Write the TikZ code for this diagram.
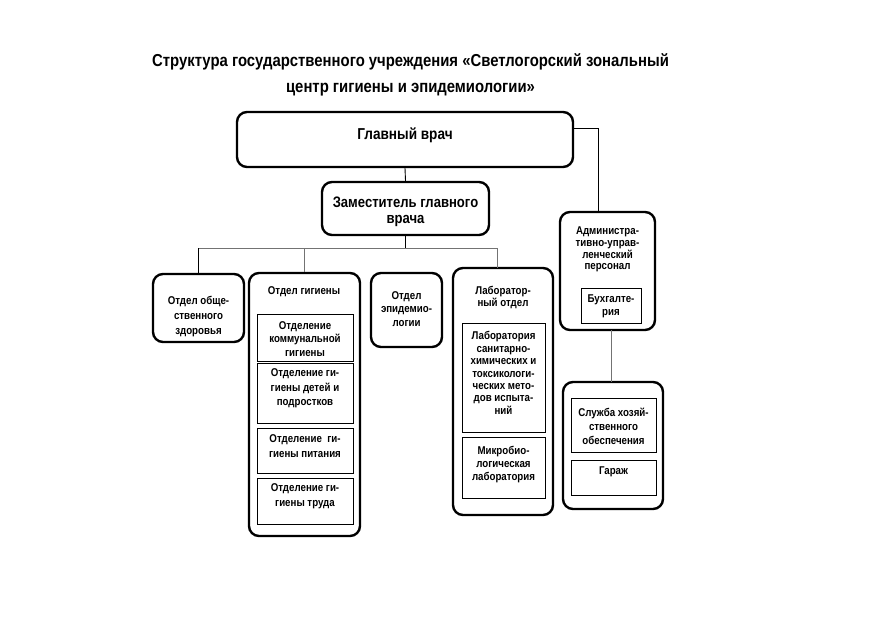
\documentclass[tikz,border=0pt]{standalone}
\usepackage{fontspec}
\setmainfont[FakeStretch=0.86]{Liberation Sans}
\begin{document}
\begin{tikzpicture}[x=1pt,y=-1pt,
  obox/.style={draw, line width=2.4pt, rounded corners=10pt, inner sep=0pt},
  ibox/.style={draw, line width=0.8pt, inner sep=0pt},
  txt/.style={align=center, font=\bfseries\fontsize{11}{13}\selectfont, inner sep=0pt},
  conn/.style={line width=0.9pt},
  gconn/.style={line width=0.9pt, draw=black!55}]
\useasboundingbox (0,0) rectangle (882,620);
% title
\node[align=center, font=\bfseries\fontsize{17.3}{26}\selectfont, inner sep=0pt] (title) at (410.5,75)
  {Структура государственного учреждения «Светлогорский зональный\\центр гигиены и эпидемиологии»};
% outer boxes
\node[obox, minimum width=336pt, minimum height=55pt] (gv) at (405,139.5) {};
\node[obox, minimum width=167pt, minimum height=53pt] (zam) at (405.5,208.5) {};
\node[obox, minimum width=91pt, minimum height=68pt] (obsh) at (198.5,308) {};
\node[obox, minimum width=111pt, minimum height=263pt] (gig) at (304.5,404.5) {};
\node[obox, minimum width=71pt, minimum height=74pt] (epid) at (406.5,310) {};
\node[obox, minimum width=100pt, minimum height=247pt] (lab) at (503,391.5) {};
\node[obox, minimum width=95pt, minimum height=118pt] (adm) at (607.5,271) {};
\node[obox, minimum width=100pt, minimum height=127pt] (serv) at (613,445.5) {};
% inner boxes
\node[ibox, minimum width=96pt, minimum height=47pt] (g1) at (305,337.5) {};
\node[ibox, minimum width=96pt, minimum height=60pt] (g2) at (305,393) {};
\node[ibox, minimum width=96pt, minimum height=45pt] (g3) at (305,450.5) {};
\node[ibox, minimum width=96pt, minimum height=46pt] (g4) at (305,501) {};
\node[ibox, minimum width=83pt, minimum height=109pt] (l1) at (503.5,377.5) {};
\node[ibox, minimum width=83pt, minimum height=61pt] (l2) at (503.5,467.5) {};
\node[ibox, minimum width=60pt, minimum height=35pt] (buh) at (611,305.5) {};
\node[ibox, minimum width=85pt, minimum height=54pt] (s1) at (613.5,425) {};
\node[ibox, minimum width=85pt, minimum height=35pt] (s2) at (613.5,477.5) {};
% texts
\node[txt, font=\bfseries\fontsize{15.8}{16}\selectfont] (tgv) at (405,135) {Главный врач};
\node[txt, font=\bfseries\fontsize{15.2}{16}\selectfont] (tzam) at (405.5,212) {Заместитель главного\\врача};
\node[txt, font=\bfseries\fontsize{11.3}{15}\selectfont] (tobsh) at (198.5,316.5) {Отдел обще-\\ственного\\здоровья};
\node[txt, font=\bfseries\fontsize{11.3}{13}\selectfont] (tgig) at (304,292) {Отдел гигиены};
\node[txt, font=\bfseries\fontsize{11.3}{13.5}\selectfont] (tg1) at (305,339) {Отделение\\коммунальной\\гигиены};
\node[txt, font=\bfseries\fontsize{11.3}{14.5}\selectfont] (tg2) at (305,388.5) {Отделение ги-\\гиены детей и\\подростков};
\node[txt, font=\bfseries\fontsize{11.3}{15}\selectfont] (tg3) at (305,446) {Отделение\ \ ги-\\гиены питания};
\node[txt, font=\bfseries\fontsize{11.3}{15}\selectfont] (tg4) at (305,496.5) {Отделение ги-\\гиены труда};
\node[txt, font=\bfseries\fontsize{11.3}{13.5}\selectfont] (tepid) at (406.5,309) {Отдел\\эпидемио-\\логии};
\node[txt, font=\bfseries\fontsize{11.3}{12}\selectfont] (tlab) at (503,297.5) {Лаборатор-\\ный отдел};
\node[txt, font=\bfseries\fontsize{11.3}{12.4}\selectfont] (tl1) at (503.5,373) {Лаборатория\\санитарно-\\химических и\\токсикологи-\\ческих мето-\\дов испыта-\\ний};
\node[txt, font=\bfseries\fontsize{11.3}{13}\selectfont] (tl2) at (503.5,465) {Микробио-\\логическая\\лаборатория};
\node[txt, font=\bfseries\fontsize{11.3}{11.8}\selectfont] (tadm) at (607.5,249.5) {Администра-\\тивно-управ-\\ленческий\\персонал};
\node[txt, font=\bfseries\fontsize{11.3}{13}\selectfont] (tbuh) at (611,306.5) {Бухгалте-\\рия};
\node[txt, font=\bfseries\fontsize{11.3}{14}\selectfont] (ts1) at (613.5,426) {Служба хозяй-\\ственного\\обеспечения};
\node[txt, font=\bfseries\fontsize{11.3}{13}\selectfont] (ts2) at (613.5,472) {Гараж};
% connector coordinates
\coordinate (gvR) at (573,128);
\coordinate (gvRc) at (598,128);
\coordinate (admT) at (598,212);
\coordinate (busL) at (198.5,248);
\coordinate (busR) at (497,248);
\coordinate (labT) at (497,268);
\coordinate (admB) at (611,330);
\coordinate (servT) at (611,382);
% connectors
\draw[conn] (gv.south) -- (zam.north);
\draw[conn] (gvR) -- (gvRc) -- (admT);
\draw[conn] (zam.south) -- (zam.south |- busL);
\draw[gconn] (busL) -- (busR);
\draw[conn] (busL) -- (obsh.north);
\draw[gconn] (gig.north |- busL) -- (gig.north);
\draw[gconn] (busR) -- (labT);
\draw[gconn] (admB) -- (servT);
\end{tikzpicture}
\end{document}
